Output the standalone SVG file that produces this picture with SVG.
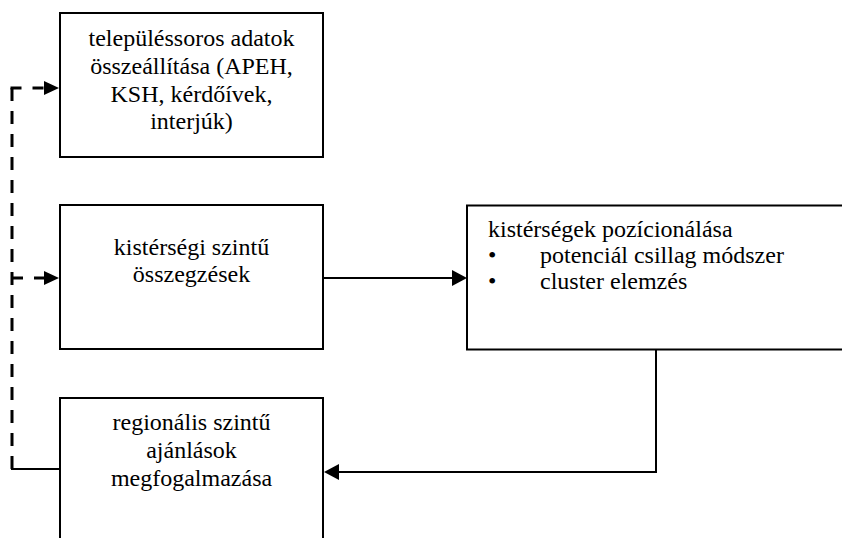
<svg xmlns="http://www.w3.org/2000/svg" width="842" height="538" viewBox="0 0 842 538">
<style>
.box{fill:#fff;stroke:#000;stroke-width:2}
text{font-family:'Liberation Serif','Times New Roman',Tinos,'DejaVu Serif',serif;font-size:24px;fill:#000}
.c{text-anchor:middle}
.ln{fill:none;stroke:#000;stroke-width:2}
.dash{fill:none;stroke:#000;stroke-width:3;stroke-dasharray:11 11}
.vdash{fill:none;stroke:#000;stroke-width:3;stroke-dasharray:13 10}
.ah{fill:#000}
</style>
<rect x="0" y="0" width="842" height="538" fill="#fff"/>
<g id="node-telepules">
<rect class="box" x="60" y="13" width="263" height="144"/>
<text class="c" x="191.5" y="46">településsoros adatok</text>
<text class="c" x="191.5" y="74">összeállítása (APEH,</text>
<text class="c" x="191.5" y="102">KSH, kérdőívek,</text>
<text class="c" x="191.5" y="129">interjúk)</text>
</g>
<g id="node-kisterseg">
<rect class="box" x="60" y="205" width="263" height="144"/>
<text class="c" x="191.5" y="255">kistérségi szintű</text>
<text class="c" x="191.5" y="282">összegzések</text>
</g>
<g id="node-regionalis">
<rect class="box" x="60" y="398" width="263" height="160"/>
<text class="c" x="191.5" y="430">regionális szintű</text>
<text class="c" x="191.5" y="458">ajánlások</text>
<text class="c" x="191.5" y="486">megfogalmazása</text>
</g>
<g id="node-pozicionalas">
<rect class="box" x="467" y="205.5" width="400" height="144"/>
<text x="488" y="237">kistérségek pozícionálása</text>
<text x="488" y="263">•</text>
<text x="540" y="263">potenciál csillag módszer</text>
<text x="488" y="289">•</text>
<text x="540" y="289">cluster elemzés</text>
</g>
<g id="connectors">
<line class="ln" x1="323" y1="278" x2="453" y2="278"/>
<polygon class="ah" points="467,278 452,270 452,286"/>
<polyline class="ln" points="656,350 656,472 338,472"/>
<polygon class="ah" points="324,472 339,464 339,480"/>
<line class="vdash" x1="12" y1="88" x2="12" y2="469"/>
<line class="ln" x1="11" y1="469" x2="60" y2="469"/>
<line class="dash" x1="10.5" y1="88" x2="45" y2="88"/>
<polygon class="ah" points="59,88 44,81 44,95"/>
<line class="dash" x1="12" y1="278" x2="45" y2="278"/>
<polygon class="ah" points="59,278 44,271 44,285"/>
</g>
</svg>
